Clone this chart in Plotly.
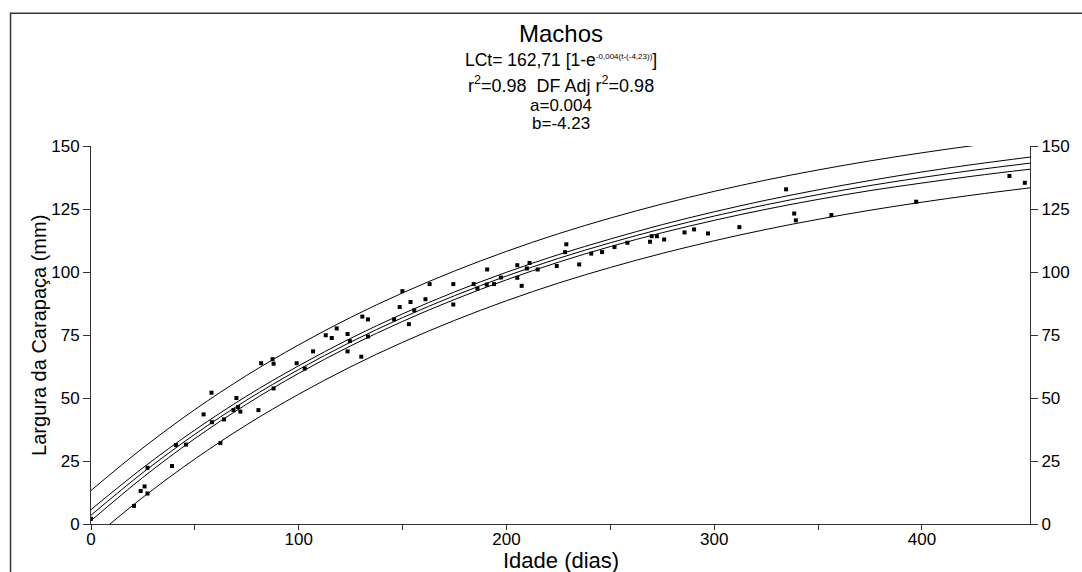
import plotly.graph_objects as go

# ---- observed data (Idade in days, Largura in mm) ----
idade = [0, 20.7, 23.9, 25.8, 27.2, 27.2, 39.0, 40.9, 45.7, 54.2, 58.0, 58.2, 62.3, 64.0,
         68.6, 70.0, 70.8, 71.9, 80.6, 81.9, 87.4, 87.9, 87.9, 99.0, 102.9, 106.9, 113.0,
         115.9, 118.3, 123.5, 124.6, 123.5, 130.1, 130.6, 133.3, 133.3, 145.9, 148.6, 149.9,
         153.0, 153.8, 155.6, 161.0, 163.0, 174.4, 174.4, 184.2, 186.0, 190.7, 190.5, 194.0,
         197.3, 205.2, 205.2, 207.3, 209.8, 211.1, 215.0, 224.2, 228.2, 228.8, 235.0, 240.8,
         246.0, 252.0, 258.2, 269.1, 269.9, 272.4, 275.9, 285.7, 290.3, 297.0, 312.1, 334.6,
         338.5, 339.3, 356.4, 397.2, 442.1, 449.5]
largura = [2.1, 7.2, 13.1, 14.9, 12.1, 22.3, 23.0, 31.3, 31.5, 43.5, 52.1, 40.4, 32.1, 41.5,
           45.2, 50.0, 46.4, 44.6, 45.2, 63.8, 65.4, 63.6, 53.8, 63.8, 61.7, 68.5, 74.9,
           73.8, 77.6, 75.4, 72.6, 68.5, 66.4, 82.3, 81.2, 74.4, 81.2, 86.1, 92.4,
           79.3, 88.1, 84.8, 89.2, 95.2, 95.2, 87.1, 95.2, 93.4, 101.0, 95.0, 95.2,
           97.8, 97.7, 102.7, 94.5, 101.4, 103.6, 101.0, 102.4, 107.9, 111.0, 103.0, 107.3,
           107.9, 109.9, 111.6, 112.0, 114.2, 114.2, 112.9, 115.7, 116.9, 115.3, 117.8, 132.8,
           123.2, 120.5, 122.6, 127.9, 138.1, 135.4]

# ---- fitted curve and bands ----
t_curve = [0, 25, 50, 75, 100, 125, 150, 175, 200, 225, 250, 275, 300, 325, 350, 375, 400, 425, 452]
fit = [3.5, 20.4, 35.6, 49.2, 61.3, 72.2, 81.9, 90.6, 98.4, 105.4, 111.6, 117.2, 122.2, 126.7,
       130.7, 134.3, 137.5, 140.4, 143.2]
ci_upper = [5.7, 22.3, 37.3, 50.8, 62.8, 73.7, 83.4, 92.1, 99.9, 106.9, 113.1, 118.8, 123.9,
            128.5, 132.6, 136.3, 139.7, 142.7, 145.6]
ci_lower = [1.3, 18.5, 33.9, 47.6, 59.8, 70.7, 80.4, 89.1, 96.9, 103.9, 110.1, 115.6, 120.5,
            124.9, 128.8, 132.3, 135.3, 138.1, 140.8]
pi_upper = [13.3, 30.2, 45.4, 59.0, 71.1, 82.0, 91.7, 100.4, 108.2, 115.2, 121.4, 127.0, 132.0,
            136.5, 140.5, 144.1, 147.3, 150.2, 153.0]
pi_lower = [-6.3, 10.6, 25.8, 39.4, 51.5, 62.4, 72.1, 80.8, 88.6, 95.6, 101.8, 107.4, 112.4,
            116.9, 120.9, 124.5, 127.7, 130.6, 133.4]

x_ticks = [0, 100, 200, 300, 400]
x_tick_marks = [0, 50, 100, 150, 200, 250, 300, 350, 400]
y_ticks = [0, 25, 50, 75, 100, 125, 150]

FONT = "Arial, Liberation Sans, sans-serif"
AX = "#333333"

fig = go.Figure()
for ys in (pi_upper, ci_upper, fit, ci_lower, pi_lower):
    fig.add_trace(go.Scatter(x=t_curve, y=ys, mode="lines", line=dict(color="black", width=1, shape="spline"),
                             showlegend=False, hoverinfo="skip"))
fig.add_trace(go.Scatter(x=idade, y=largura, mode="markers",
                         marker=dict(symbol="square", size=4, color="black"),
                         showlegend=False))
# dummy trace to show the right-hand axis and the tick-mark axis
fig.add_trace(go.Scatter(x=[0], y=[0], xaxis="x2", yaxis="y2", mode="markers", marker=dict(opacity=0),
                         showlegend=False, hoverinfo="skip"))

fig.update_layout(
    width=1082, height=572,
    margin=dict(l=91, r=38, t=146, b=48),
    paper_bgcolor="white", plot_bgcolor="white",
    font=dict(family=FONT, color="black", size=17),
    xaxis=dict(range=[0, 452], tickvals=x_ticks, ticks="", showline=True, linecolor=AX, linewidth=1,
               showgrid=False, zeroline=False, tickfont=dict(size=17)),
    xaxis2=dict(range=[0, 452], tickvals=x_tick_marks, ticks="outside", ticklen=5, tickcolor=AX,
                overlaying="x", side="bottom", showticklabels=False, showline=False,
                showgrid=False, zeroline=False),
    yaxis=dict(range=[0, 150], tickvals=y_ticks, ticks="outside", ticklen=7, tickcolor=AX,
               showline=True, linecolor=AX, linewidth=1, showgrid=False, zeroline=False,
               tickfont=dict(size=17)),
    yaxis2=dict(range=[0, 150], tickvals=y_ticks, ticks="outside", ticklen=7, tickcolor=AX,
                overlaying="y", side="right", showline=True, linecolor=AX, linewidth=1,
                showgrid=False, zeroline=False, tickfont=dict(size=17)),
)

ann = [
    dict(text="Machos", y=1.2967, size=24),
    dict(text='LCt= 162,71 [1-e<sup><span style="font-size:8px">-0,004(t-(-4,23))</span></sup>]',
         y=1.2278, size=17.5),
    dict(text="r<sup>2</sup>=0.98&#160;&#160;DF Adj r<sup>2</sup>=0.98", y=1.1616, size=18),
    dict(text="a=0.004", y=1.1060, size=17),
    dict(text="b=-4.23", y=1.0583, size=17),
]
for a in ann:
    fig.add_annotation(text=a["text"], x=0.5, y=a["y"], xref="paper", yref="paper",
                       xanchor="center", yanchor="middle", showarrow=False,
                       font=dict(size=a["size"], family=FONT, color="black"))

fig.add_annotation(text="Idade (dias)", x=0.5, y=-0.097, xref="paper", yref="paper",
                   xanchor="center", yanchor="middle", showarrow=False,
                   font=dict(size=22, family=FONT, color="black"))
fig.add_annotation(text="Largura da Carapaça (mm)", x=-0.0555, y=0.5, xref="paper", yref="paper",
                   xanchor="center", yanchor="middle", textangle=-90, showarrow=False,
                   font=dict(size=20, family=FONT, color="black"))

# outer frame
fig.add_shape(type="rect", xref="paper", yref="paper", x0=-0.0857, y0=-0.3, x1=1.2, y1=1.3515,
              line=dict(color="#333333", width=1.5), fillcolor="rgba(0,0,0,0)", layer="below")

fig.write_html("out.html")
